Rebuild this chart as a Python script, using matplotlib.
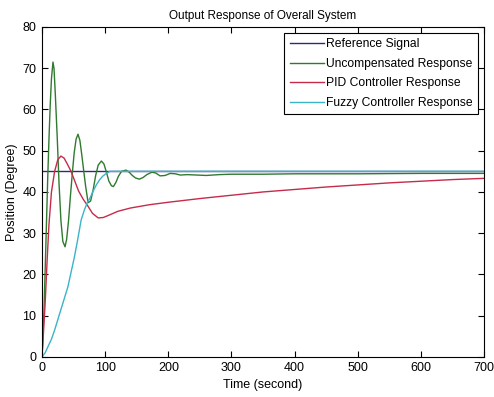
import matplotlib.pyplot as plt

plt.rcParams['font.family'] = ['Liberation Sans Narrow', 'Liberation Sans', 'DejaVu Sans']

# values
ref_t = [0, 700]
ref_y = [45, 45]

unc_t = [0, 1, 3, 5, 7, 9, 11, 13, 15, 17.4, 19, 21, 24.3, 27, 30, 33, 36.5, 39, 42, 45, 48,
         51, 54, 57, 60, 63, 66, 69, 73, 77, 81, 85, 89, 94, 98, 102, 106, 110, 113,
         117, 121, 126, 133, 138, 143, 148, 154, 160, 166, 174, 180, 187, 195, 203,
         211, 219, 230, 245, 260, 280, 300, 350, 400, 500, 600, 700]
unc_y = [0, 3, 10.6, 21, 32, 43, 52.6, 61, 67.5, 71.5, 70, 64, 52.6, 42, 33, 28, 26.7, 28.5, 33,
         39, 44.5, 49.5, 52.8, 54, 52.5, 49, 45.2, 41.5, 37.4, 37.8, 40.5, 44, 46.5, 47.5,
         46.8, 44.8, 42.6, 41.5, 41.3, 42.3, 43.8, 45.0, 45.3, 44.8, 44.0, 43.4, 43.1,
         43.5, 44.2, 44.8, 44.6, 43.9, 44.0, 44.5, 44.4, 44.1, 44.2, 44.1, 44.0, 44.2,
         44.3, 44.3, 44.4, 44.4, 44.5, 44.5]

pid_t = [0, 2, 5, 8, 11, 15, 20, 25, 30, 35, 40, 46, 52, 58, 65, 73, 80, 89, 97, 105,
         120, 140, 170, 200, 250, 300, 350, 400, 450, 500, 550, 600, 650, 700]
pid_y = [0, 5, 13, 23, 32, 40, 45, 47.8, 48.7, 48.2, 46.8, 45, 42.6, 40.2, 38.3, 36.5,
         34.8, 33.7, 33.8, 34.3, 35.3, 36.1, 36.9, 37.5, 38.4, 39.2, 40.0, 40.6, 41.2,
         41.7, 42.2, 42.6, 43.0, 43.3]

fuz_t = [0, 5, 9.5, 15, 20, 25, 30, 35, 41, 46, 51, 56, 62, 67, 72, 76, 81, 86, 91, 96,
         101, 105, 108, 700]
fuz_y = [0, 1.0, 2.5, 4.3, 6.5, 9, 11.5, 14, 17, 20.5, 24, 28, 33.2, 35.6, 37.5, 38.5,
         40.2, 41.7, 42.9, 43.8, 44.4, 44.8, 45.0, 45.0]

fig = plt.figure(figsize=(4.94, 3.97), dpi=100)
ax = fig.add_axes([0.085, 0.101, 0.895, 0.831])

ax.plot(ref_t, ref_y, color='#2a2a80', lw=1, label='Reference Signal')
ax.plot(unc_t, unc_y, color='#2f7a2f', lw=1, label='Uncompensated Response')
ax.plot(pid_t, pid_y, color='#c62b4a', lw=1, label='PID Controller Response')
ax.plot(fuz_t, fuz_y, color='#3bb3c9', lw=1, label='Fuzzy Controller Response')

ax.set_xlim(0, 700)
ax.set_ylim(0, 80)
ax.set_xticks(range(0, 701, 100))
ax.set_yticks(range(0, 81, 10))
ax.tick_params(direction='in', top=True, right=True, labelsize=9, length=4, pad=4)
ax.set_xlabel('Time (second)', fontsize=9, labelpad=3)
ax.set_ylabel('Position (Degree)', fontsize=9, labelpad=3)
ax.set_title('Output Response of Overall System', fontsize=8.5, pad=6)

leg = ax.legend(loc='upper right', fontsize=8.7, fancybox=False, framealpha=1,
                edgecolor='black', handlelength=2.8, borderaxespad=0.5,
                labelspacing=0.62, handletextpad=0.2, borderpad=0.45)
leg.get_frame().set_linewidth(0.8)

fig.savefig('out.png', dpi=100)
